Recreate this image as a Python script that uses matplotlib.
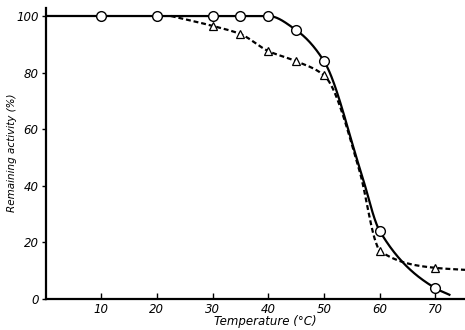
import numpy as np
import matplotlib
matplotlib.use("Agg")
import matplotlib.pyplot as plt

# Measured points (markers)
circle_temp = [10, 20, 30, 35, 40, 45, 50, 60, 70]
circle_act = [100, 100, 100, 100, 100, 95, 84, 24, 3.8]
tri_temp = [30, 35, 40, 45, 50, 60, 70]
tri_act = [96.5, 93.6, 87.6, 84, 79, 17, 11]

# Curve control points (drawn lines)
solid_temp = [0, 10, 20, 30, 35, 40, 45, 50, 56.6, 60, 70, 72.5]
solid_act = [100, 100, 100, 100, 100, 100, 95, 84, 45, 24, 3.8, 1.5]
dash_temp = [22.5, 30, 35, 40, 45, 50, 56.4, 59.3, 60, 70, 75.3]
dash_act = [100, 96.5, 93.6, 87.6, 84, 79, 45, 20, 17, 11, 10.3]

xticks = [10, 20, 30, 40, 50, 60, 70]
yticks = [0, 20, 40, 60, 80, 100]


def pchip(x, y, xn):
    x = np.asarray(x, float)
    y = np.asarray(y, float)
    h = np.diff(x)
    d = np.diff(y) / h
    n = len(x)
    m = np.zeros(n)
    for k in range(1, n - 1):
        if d[k - 1] * d[k] <= 0:
            m[k] = 0
        else:
            w1 = 2 * h[k] + h[k - 1]
            w2 = h[k] + 2 * h[k - 1]
            m[k] = (w1 + w2) / (w1 / d[k - 1] + w2 / d[k])
    m[0] = d[0]
    m[-1] = d[-1]
    out = np.empty_like(xn)
    for i, xv in enumerate(xn):
        k = min(max(np.searchsorted(x, xv) - 1, 0), n - 2)
        t = (xv - x[k]) / h[k]
        h00 = 2 * t**3 - 3 * t**2 + 1
        h10 = t**3 - 2 * t**2 + t
        h01 = -2 * t**3 + 3 * t**2
        h11 = t**3 - t**2
        out[i] = h00 * y[k] + h10 * h[k] * m[k] + h01 * y[k + 1] + h11 * h[k] * m[k + 1]
    return out


fig = plt.figure(figsize=(4.65, 3.3), dpi=100)
ax = fig.add_axes([45.5 / 465, 31 / 330, 1 - 45.5 / 465, 291.5 / 330])

xs = np.linspace(solid_temp[0], solid_temp[-1], 600)
ax.plot(xs, pchip(solid_temp, solid_act, xs), color="black", lw=1.6, zorder=2)
xd = np.linspace(dash_temp[0], dash_temp[-1], 600)
ax.plot(xd, pchip(dash_temp, dash_act, xd), color="black", lw=1.6,
        ls=(0, (2.2, 1.3)), zorder=2)

ax.plot(tri_temp, tri_act, ls="none", marker="^", ms=5.5, mfc="white",
        mec="black", mew=0.9, zorder=3)
ax.plot(circle_temp, circle_act, ls="none", marker="o", ms=7, mfc="white",
        mec="black", mew=1.0, zorder=4)

ax.set_xlim(0, 75.3)
ax.set_ylim(0, 103)
for s in ["top", "right"]:
    ax.spines[s].set_visible(False)
for s in ["left", "bottom"]:
    ax.spines[s].set_linewidth(1.6)

ax.set_xticks(xticks)
ax.set_yticks(yticks)
ax.set_xticklabels([str(v) for v in xticks], style="italic", fontsize=8.5)
ax.set_yticklabels([str(v) for v in yticks], style="italic", fontsize=8.5)
ax.tick_params(axis="x", direction="in", length=4, width=1, pad=3)
ax.tick_params(axis="y", direction="out", length=3, width=1, pad=2)

ax.set_xlabel("Temperature (\u00b0C)", style="italic", fontsize=8.5)
ax.xaxis.set_label_coords(0.523, -0.055)
ax.set_ylabel("Remaining activity (%)", style="italic", fontsize=7.5)
ax.yaxis.set_label_coords(-0.068, 0.5)

fig.savefig("out.png", dpi=100)
